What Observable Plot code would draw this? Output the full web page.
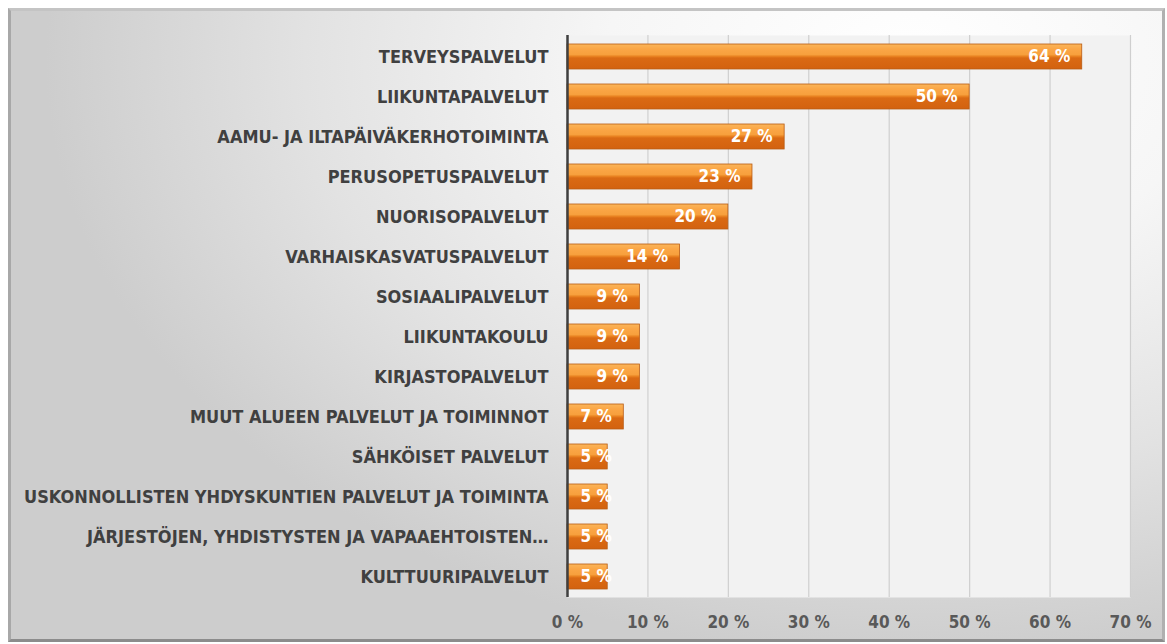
<!DOCTYPE html>
<html>
<head>
<meta charset="utf-8">
<script src="https://cdn.jsdelivr.net/npm/d3@7"></script>
<script src="https://cdn.jsdelivr.net/npm/@observablehq/plot@0.6"></script>
<style>
  html, body { margin: 0; padding: 0; background: #ffffff; }
  #wrap { position: relative; width: 1167px; height: 644px; overflow: hidden; }
  #bg {
    position: absolute; left: 8px; top: 8px; width: 1151px; height: 628px;
    border-top: 3px solid #c4c4c4; border-left: 3px solid #a8a8a8;
    border-right: 3px solid #b0b0b0; border-bottom: 3px solid #8c8c8c;
    background: radial-gradient(ellipse 75% 95% at 78% 8%, #ffffff 0%, #f6f6f6 35%, #e2e2e2 70%, #cdcdcd 100%);
  }
  #chart { position: absolute; left: 0; top: 0; }
  #chart svg { background: transparent !important; }
</style>
</head>
<body>
<div id="wrap"><div id="bg"></div><div id="chart"></div></div>
<script>
const categories = [
  "TERVEYSPALVELUT",
  "LIIKUNTAPALVELUT",
  "AAMU- JA ILTAPÄIVÄKERHOTOIMINTA",
  "PERUSOPETUSPALVELUT",
  "NUORISOPALVELUT",
  "VARHAISKASVATUSPALVELUT",
  "SOSIAALIPALVELUT",
  "LIIKUNTAKOULU",
  "KIRJASTOPALVELUT",
  "MUUT ALUEEN PALVELUT JA TOIMINNOT",
  "SÄHKÖISET PALVELUT",
  "USKONNOLLISTEN YHDYSKUNTIEN PALVELUT JA TOIMINTA",
  "JÄRJESTÖJEN, YHDISTYSTEN JA VAPAAEHTOISTEN…",
  "KULTTUURIPALVELUT"
];
const values = [64, 50, 27, 23, 20, 14, 9, 9, 9, 7, 5, 5, 5, 5];
const xTicks = [0, 10, 20, 30, 40, 50, 60, 70];

const data = categories.map((c, i) => ({category: c, value: values[i]}));
const font = "'Liberation Sans Narrow', 'DejaVu Sans Condensed', 'Roboto Condensed', 'Arial Narrow', sans-serif";
const labelStyle = {x: "value", y: "category", text: d => d.value + " %", textAnchor: "end",
  fill: "#ffffff", fontWeight: "bold", fontSize: 17};

const svg = Plot.plot({
  width: 1167,
  height: 644,
  marginLeft: 567,
  marginRight: 37,
  marginTop: 35,
  marginBottom: 47,
  style: {fontFamily: font, background: "transparent"},
  x: {domain: [0, 70], ticks: xTicks, tickFormat: d => d + " %", label: null},
  y: {domain: categories, paddingInner: 0.38, paddingOuter: 0.19, label: null},
  marks: [
    Plot.frame({fill: "#f2f2f2", stroke: null}),
    Plot.gridX(xTicks.slice(1), {stroke: "#cfcfcf", strokeOpacity: 1, strokeWidth: 1.2}),
    Plot.barX(data, {x: "value", y: "category", fill: "url(#barGrad)", stroke: "#b95c14", strokeWidth: 0.8}),
    Plot.ruleX([0], {stroke: "#3f3f3f", strokeWidth: 2.5}),
    Plot.text(data.filter(d => d.value >= 7), {...labelStyle, dx: -12}),
    Plot.text(data.filter(d => d.value < 7), {...labelStyle, dx: 4}),
    Plot.axisY({tickSize: 0, tickPadding: 19, fontSize: 18, fontWeight: "bold", fill: "#404040"}),
    Plot.axisX(xTicks, {tickSize: 0, tickPadding: 18, fontSize: 17, fontWeight: "bold", fill: "#595959", tickFormat: d => d + " %"})
  ]
});

const defs = d3.select(svg).insert("defs", ":first-child");
const g = defs.append("linearGradient").attr("id", "barGrad")
  .attr("x1", 0).attr("y1", 0).attr("x2", 0).attr("y2", 1);
[[0, "#fbb65a"], [0.2, "#fba646"], [0.42, "#f7a03d"], [0.5, "#e8801f"], [0.56, "#da6a14"], [1, "#d3620f"]]
  .forEach(([o, c]) => g.append("stop").attr("offset", o).attr("stop-color", c));

document.getElementById("chart").appendChild(svg);
</script>
</body>
</html>
